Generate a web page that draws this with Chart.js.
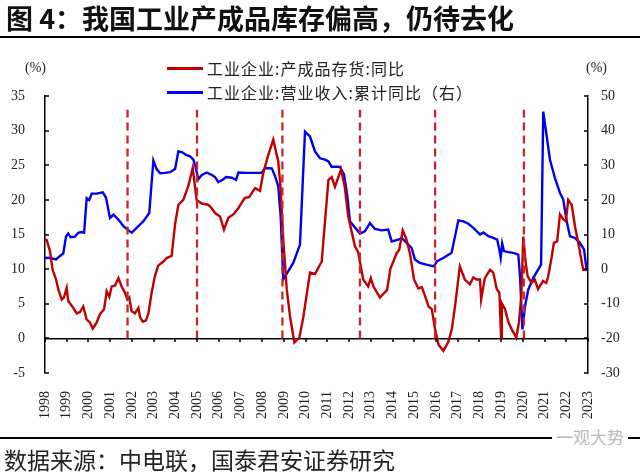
<!DOCTYPE html>
<html>
<head>
<meta charset="utf-8">
<script src="https://cdn.jsdelivr.net/npm/chart.js@4.4.1/dist/chart.umd.min.js"></script>
<style>
  body { margin: 0; background: #fff; }
  #wrap { position: relative; width: 640px; height: 475px; overflow: hidden; font-family: "Noto Sans CJK SC", sans-serif; color: #111; }
  #chart { position: absolute; left: 0; top: 0; }
  #title { position: absolute; left: 6px; top: 0; font-size: 27px; font-weight: bold; line-height: 36px; white-space: nowrap; }
  .rule { position: absolute; left: 0; width: 640px; height: 2px; background: #000; }
  .unit { position: absolute; top: 60px; font-family: "Liberation Serif", serif; font-size: 14px; color: #222; }
  .leg { position: absolute; left: 167px; height: 20px; display: flex; align-items: center; font-size: 16px; letter-spacing: 1px; color: #222; white-space: nowrap; }
  .leg i { display: inline-block; width: 36px; height: 3px; margin-right: 4px; }
  #source { position: absolute; left: 4px; top: 444px; font-size: 23px; line-height: 30px; color: #222; white-space: nowrap; }
  #mark { position: absolute; left: 552px; top: 424px; font-size: 17px; color: #bbb; background: #fff; padding: 0 4px; }
</style>
</head>
<body>
<div id="wrap">
  <canvas id="chart" width="640" height="475"></canvas>
  <div id="title">图 4：我国工业产成品库存偏高，仍待去化</div>
  <div class="rule" style="top:36px"></div>
  <div class="unit" style="left:25px">(%)</div>
  <div class="unit" style="left:586px">(%)</div>
  <div id="legend"></div>
  <div class="rule" style="top:437px"></div>
  <div id="mark">一观大势</div>
  <div id="source">数据来源：中电联，国泰君安证券研究</div>
</div>
<script>
// 工业企业:产成品存货:同比 (left axis, %)
var invYears = [1998.00, 1998.08, 1998.23, 1998.35, 1998.51, 1998.61, 1998.77, 1998.87,
    1999.00, 1999.07, 1999.30, 1999.46, 1999.61, 1999.76, 1999.92,
    2000.07, 2000.20, 2000.38, 2000.53, 2000.72, 2000.84, 2000.96,
    2001.07, 2001.22, 2001.38, 2001.53, 2001.68, 2001.79, 2001.88, 2001.99,
    2002.14, 2002.30, 2002.37, 2002.50, 2002.65, 2002.76, 2002.91,
    2003.06, 2003.21, 2003.45, 2003.60, 2003.83, 2003.99,
    2004.14, 2004.37, 2004.60, 2004.80, 2004.98,
    2005.20, 2005.50, 2005.62, 2005.83,
    2006.06, 2006.24, 2006.44, 2006.67, 2006.90,
    2007.20, 2007.40, 2007.67, 2007.90,
    2008.05, 2008.28, 2008.51, 2008.74, 2008.85, 2008.97,
    2009.13, 2009.28, 2009.48, 2009.71, 2009.90,
    2010.20, 2010.43, 2010.74,
    2011.05, 2011.20, 2011.35, 2011.63, 2011.80, 2011.96,
    2012.27, 2012.42, 2012.65, 2012.88,
    2013.00, 2013.12, 2013.42, 2013.75, 2013.90,
    2014.19, 2014.31, 2014.47, 2014.62, 2014.80, 2014.99,
    2015.19, 2015.35, 2015.50, 2015.66, 2015.81, 2015.96,
    2016.12, 2016.34, 2016.57, 2016.73, 2016.88,
    2017.10, 2017.33, 2017.56, 2017.72, 2017.87,
    2018.03, 2018.08, 2018.25, 2018.49, 2018.64, 2018.80, 2018.92,
    2019.00, 2019.03, 2019.18, 2019.34, 2019.49, 2019.70, 2019.82, 2019.93,
    2020.02, 2020.12, 2020.22, 2020.40, 2020.55, 2020.70, 2020.93,
    2021.08, 2021.17, 2021.32, 2021.43, 2021.58, 2021.71, 2021.86, 2021.98,
    2022.09, 2022.25, 2022.40, 2022.55, 2022.78, 2022.94];
var invValues = [14.3, 14.2, 12.6, 9.9, 8.5, 7.1, 5.6, 5.9,
    7.3, 5.4, 4.4, 3.6, 3.8, 4.6, 2.7,
    2.3, 1.4, 2.3, 3.5, 4.2, 6.8, 6.0,
    7.5, 7.6, 8.7, 7.5, 6.6, 5.6, 5.9, 3.9,
    3.6, 4.4, 3.1, 2.4, 2.6, 3.6, 6.6,
    9.0, 10.5, 11.1, 11.6, 11.9, 16.5,
    19.3, 20.0, 22.0, 24.6, 20.0,
    19.5, 19.3, 19.0, 18.1,
    17.6, 15.7, 17.4, 17.9, 18.8,
    20.3, 20.4, 21.7, 21.3,
    23.9, 26.5, 28.7, 25.5, 21.5, 14.3,
    7.1, 3.2, -0.6, 0.1, 3.2,
    9.5, 9.3, 11.1,
    22.9, 23.3, 21.9, 24.4, 21.9, 17.6,
    13.3, 12.4, 8.5, 7.5,
    8.7, 7.5, 5.9, 7.0, 10.0,
    12.3, 12.8, 15.6, 14.5, 12.3, 8.5,
    7.2, 7.4, 6.1, 4.6, 4.2, 1.3,
    -0.9, -1.8, -0.5, 1.3, 4.7,
    10.4, 8.5, 7.8, 8.8, 8.5,
    8.5, 5.6, 8.7, 9.9, 9.5, 7.1, 6.6,
    0.1, 5.1, 4.2, 2.3, 1.3, 0.1, 2.3, 6.1,
    14.7, 11.2, 9.0, 8.0, 8.5, 7.1, 8.3,
    8.0, 9.0, 11.6, 13.8, 14.0, 17.9, 17.2, 16.9,
    20.0, 19.3, 16.2, 13.8, 9.9, 9.9];

// 工业企业:营业收入:累计同比 (right axis, %)
var revYears = [1998.00, 1998.23, 1998.51, 1998.69, 1998.84, 1998.97,
    1999.07, 1999.18, 1999.38, 1999.53, 1999.69, 1999.80, 1999.92,
    2000.04, 2000.15, 2000.38, 2000.66, 2000.81, 2000.99,
    2001.15, 2001.38, 2001.61, 2001.80, 2001.99,
    2002.22, 2002.53, 2002.80, 2002.99,
    2003.14, 2003.30, 2003.53, 2003.76, 2003.99,
    2004.14, 2004.30, 2004.49, 2004.68, 2004.83, 2004.91,
    2005.06, 2005.22, 2005.45, 2005.68, 2005.83, 2005.98,
    2006.18, 2006.34, 2006.60, 2006.80, 2006.90,
    2007.28, 2007.74, 2007.97,
    2008.13, 2008.44, 2008.59, 2008.74, 2008.85, 2008.97,
    2009.20, 2009.43, 2009.74, 2009.97,
    2010.20, 2010.43, 2010.66, 2010.89,
    2011.05, 2011.20, 2011.40, 2011.58, 2011.77, 2011.92,
    2012.04, 2012.27, 2012.50, 2012.73, 2012.96,
    2013.19, 2013.50, 2013.80, 2013.96,
    2014.27, 2014.42, 2014.65, 2014.88,
    2015.03, 2015.26, 2015.56, 2015.90,
    2016.05, 2016.36, 2016.72,
    2017.03, 2017.26, 2017.49, 2017.72,
    2018.03, 2018.18, 2018.41, 2018.64, 2018.82, 2018.92, 2018.98,
    2019.05, 2019.13, 2019.33, 2019.56, 2019.79, 2019.87, 2019.98,
    2020.10, 2020.25, 2020.48, 2020.71, 2020.84, 2020.94,
    2021.10, 2021.25, 2021.48, 2021.71, 2021.86,
    2022.02, 2022.17, 2022.40, 2022.63, 2022.82, 2022.94];
var revValues = [3.3, 3.2, 2.8, 3.8, 4.5, 9.5,
    10.3, 9.2, 9.4, 10.5, 10.7, 10.5, 20.5,
    20.0, 21.8, 21.8, 22.2, 20.6, 14.8,
    15.7, 14.3, 12.4, 11.4, 10.5,
    11.9, 13.8, 16.2, 31.4,
    28.9, 27.7, 27.8, 28.0, 28.9,
    34.0, 33.8, 33.0, 32.6, 31.6, 30.0,
    26.0, 27.2, 27.9, 27.2, 26.6, 25.1,
    25.8, 26.6, 26.4, 25.8, 27.9,
    27.8, 27.8, 27.8,
    29.2, 29.1, 26.9, 23.9, 15.3, -3.0,
    -0.6, 1.8, 7.1, 39.7,
    38.3, 34.0, 32.0, 31.6,
    31.1, 29.5, 29.6, 29.5, 27.3, 21.0,
    13.8, 12.0, 10.3, 10.9, 13.3,
    11.6, 11.2, 11.4, 8.0,
    8.5, 9.0, 7.6, 6.1,
    2.8, 1.8, 1.3, 0.8,
    2.3, 3.3, 4.7,
    14.1, 13.8, 13.1, 11.9,
    10.0, 10.6, 9.5, 9.0, 8.5, 5.6, 3.3,
    7.4, 5.2, 4.9, 4.7, 4.2, -2.0, -17.4,
    -10.7, -5.9, -2.5, -0.1, 1.3, 45.5,
    38.3, 31.6, 26.3, 22.0, 20.1,
    13.8, 9.5, 9.0, 7.6, 5.6, -0.6];

// 库存周期拐点 (red dashed markers)
var cycleYears = [2001.8, 2005.0, 2008.93, 2012.5, 2015.96, 2020.05];
var cycleTop = 33;

var seriesNames = ["工业企业:产成品存货:同比", "工业企业:营业收入:累计同比（右）"];

function toPoints(xs, ys) {
    return xs.map(function(t, i) { return { x: t, y: ys[i] }; });
}

var datasets = [
    {
        label: seriesNames[0],
        data: toPoints(invYears, invValues),
        borderColor: "#C00000",
        borderWidth: 2.4,
        yAxisID: "y",
        order: 1
    },
    {
        label: seriesNames[1],
        data: toPoints(revYears, revValues),
        borderColor: "#0000F0",
        borderWidth: 2.4,
        yAxisID: "y1",
        order: 2
    }
];

cycleYears.forEach(function(t) {
    datasets.push({
        label: "cycle",
        data: [{ x: t, y: 0 }, { x: t, y: cycleTop }],
        borderColor: "#C8252B",
        borderWidth: 2.3,
        borderDash: [8, 5],
        yAxisID: "y",
        order: 0
    });
});

var serifTick = { family: "Liberation Serif", size: 14 };

// inward ticks on both value axes, downward ticks on the zero line
var axisTicks = {
    id: "axisTicks",
    afterDatasetsDraw: function(chart) {
        var ctx = chart.ctx;
        var x = chart.scales.x, y = chart.scales.y, y1 = chart.scales.y1;
        ctx.save();
        ctx.strokeStyle = "#000";
        ctx.lineWidth = 1.5;
        ctx.beginPath();
        y.ticks.forEach(function(t) {
            var p = Math.round(y.getPixelForValue(t.value));
            ctx.moveTo(x.left, p); ctx.lineTo(x.left + 4, p);
        });
        y1.ticks.forEach(function(t) {
            var p = Math.round(y1.getPixelForValue(t.value));
            ctx.moveTo(x.right, p); ctx.lineTo(x.right - 4, p);
        });
        var y0 = Math.round(y.getPixelForValue(0));
        x.ticks.forEach(function(t) {
            var p = Math.round(x.getPixelForValue(t.value));
            ctx.moveTo(p, y0); ctx.lineTo(p, y0 + 4);
        });
        ctx.stroke();
        ctx.restore();
    }
};

var chart = new Chart(document.getElementById("chart").getContext("2d"), {
    type: "line",
    data: { datasets: datasets },
    options: {
        responsive: false,
        animation: false,
        layout: { padding: { top: 96, left: 0, right: 0, bottom: 0 } },
        elements: { point: { radius: 0 }, line: { tension: 0 } },
        plugins: { legend: { display: false }, tooltip: { enabled: false } },
        scales: {
            x: {
                type: "linear",
                min: 1998,
                max: 2023,
                grid: { display: false },
                border: { display: false },
                ticks: {
                    stepSize: 1,
                    autoSkip: false,
                    minRotation: 90,
                    maxRotation: 90,
                    padding: 10,
                    color: "#222",
                    font: { family: "Liberation Serif", size: 14 },
                    callback: function(v) { return String(v); }
                },
                afterFit: function(s) { s.height = 102; }
            },
            y: {
                position: "left",
                min: -5,
                max: 35,
                ticks: { stepSize: 5, padding: 20, color: "#222", font: serifTick },
                grid: {
                    drawTicks: false,
                    lineWidth: 1.5,
                    color: function(c) { return c.tick && c.tick.value === 0 ? "#000" : "rgba(0,0,0,0)"; }
                },
                border: { display: true, color: "#000", width: 1.5 },
                afterFit: function(s) { s.width = 45; }
            },
            y1: {
                position: "right",
                min: -30,
                max: 50,
                ticks: { stepSize: 10, padding: 13, color: "#222", font: serifTick },
                grid: { display: false, drawTicks: false },
                border: { display: true, color: "#000", width: 1.5 },
                afterFit: function(s) { s.width = 52; }
            }
        }
    },
    plugins: [axisTicks]
});

// legend built from the two series
var legend = document.getElementById("legend");
chart.data.datasets.slice(0, 2).forEach(function(ds, i) {
    var row = document.createElement("div");
    row.className = "leg";
    row.style.top = (58 + i * 24) + "px";
    row.innerHTML = '<i style="background:' + ds.borderColor + '"></i>' + ds.label;
    legend.appendChild(row);
});
</script>
</body>
</html>
